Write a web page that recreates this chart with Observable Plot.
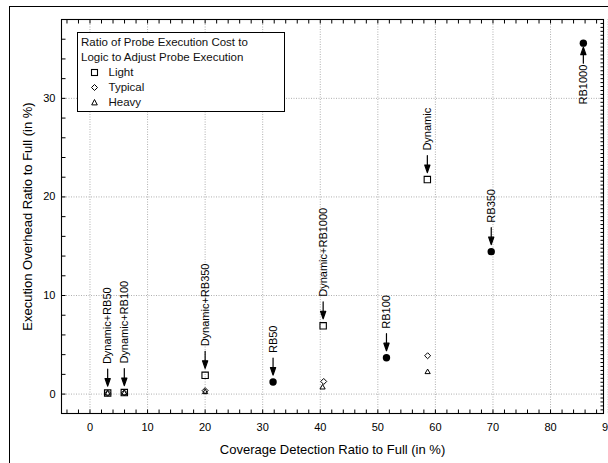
<!DOCTYPE html>
<html><head><meta charset="utf-8">
<script src="https://cdn.jsdelivr.net/npm/d3@7"></script>
<script src="https://cdn.jsdelivr.net/npm/@observablehq/plot@0.6"></script>
<style>
body{margin:0;background:#fff;width:608px;height:463px;overflow:hidden;position:relative;font-family:"Liberation Sans",Arial,Helvetica,sans-serif;}
#border{position:absolute;left:9px;top:6px;width:800px;height:800px;border:1.5px solid #000;box-sizing:border-box;}
#chart{position:absolute;left:0;top:0;}
#legend{position:absolute;left:77px;top:32px;width:208px;height:80px;box-sizing:border-box;border:1px solid #000;background:#fff;font-size:11.5px;line-height:15px;padding:2px 0 0 3px;color:#111;}
#legend .item{display:flex;align-items:center;height:15px;}
#legend .item svg{margin-left:8.5px;margin-right:10px;}
</style></head><body>
<div id="border"></div>
<div id="chart"></div>
<div id="legend"></div>
<script>
// ---- data ----
const legendTitle = ["Ratio of Probe Execution Cost to", "Logic to Adjust Probe Execution"];
const seriesNames = ["Light", "Typical", "Heavy"];
const lightX = [3.07, 5.96, 20.0, 40.5, 58.6];
const lightY = [0.1, 0.15, 1.9, 6.93, 21.76];
const typicalX = [3.07, 5.96, 20.0, 40.6, 58.65];
const typicalY = [0.1, 0.12, 0.35, 1.28, 3.89];
const heavyX = [3.07, 5.96, 20.0, 40.4, 58.65];
const heavyY = [0.05, 0.08, 0.2, 0.67, 2.23];
const dynamicLabels = ["Dynamic+RB50", "Dynamic+RB100", "Dynamic+RB350", "Dynamic+RB1000", "Dynamic"];
const rbX = [31.8, 51.5, 69.7, 85.7];
const rbY = [1.22, 3.69, 14.45, 35.6];
const rbLabels = ["RB50", "RB100", "RB350", "RB1000"];
const rbLabelBelow = [false, false, false, true];
const xTicks = [0, 10, 20, 30, 40, 50, 60, 70, 80, 90];
const yTicks = [0, 10, 20, 30];
const xLabel = "Coverage Detection Ratio to Full (in %)";
const yLabel = "Execution Overhead Ratio to Full (in %)";
const xDomain = [-4.95, 89.2];
const yDomain = [-1.97, 38];

// ---- tables ----
const light = lightX.map((x, i) => ({x, y: lightY[i]}));
const typical = typicalX.map((x, i) => ({x, y: typicalY[i]}));
const heavy = heavyX.map((x, i) => ({x, y: heavyY[i]}));
const rb = rbX.map((x, i) => ({x, y: rbY[i]}));
const annos = [
  ...light.map((d, i) => ({...d, label: dynamicLabels[i], below: false})),
  ...rb.map((d, i) => ({...d, label: rbLabels[i], below: rbLabelBelow[i]}))
];
const annAbove = annos.filter(d => !d.below);
const annBelow = annos.filter(d => d.below);

// minor tick positions (inward ticks on all four sides)
const xMinor = d3.range(-4, 89.2, 2);
const yMinorLeft = d3.range(-2, 38.01, 2).filter(v => v >= yDomain[0]);
const yMinorRight = d3.range(-1.6, 38, 0.4);

const FONT = "Liberation Sans, Arial, Helvetica, sans-serif";
const arrowShape = {
  draw(ctx, l) {
    ctx.moveTo(0, 0); ctx.lineTo(0, -l + 6);
    ctx.moveTo(0, -l); ctx.lineTo(2.6, -l + 7.5); ctx.lineTo(-2.6, -l + 7.5); ctx.closePath();
  }
};
const lineShape = {draw(ctx, l) { ctx.moveTo(0, 0); ctx.lineTo(0, -l); }};
const gridStyle = {stroke: "#9a9a9a", strokeOpacity: 1, strokeWidth: 0.8, strokeDasharray: "1,1.5"};
const tickStyle = {shape: lineShape, anchor: "start", stroke: "#000", strokeWidth: 1, strokeLinecap: "butt"};
const arrowStyle = {shape: arrowShape, anchor: "end", stroke: "#000", fill: "#000", strokeWidth: 1.2};

const chart = Plot.plot({
  width: 608, height: 463,
  marginLeft: 61, marginRight: 5, marginTop: 19, marginBottom: 50,
  style: {fontFamily: FONT, fontSize: "11px", color: "#000", background: "transparent"},
  x: {domain: xDomain, label: null},
  y: {domain: yDomain, label: null},
  marks: [
    Plot.gridX(xTicks, gridStyle),
    Plot.gridY(yTicks, gridStyle),
    Plot.vector(xMinor, {x: d => d, y: yDomain[0], length: 4, rotate: 0, ...tickStyle}),
    Plot.vector(xMinor, {x: d => d, y: yDomain[1], length: 4, rotate: 180, ...tickStyle}),
    Plot.vector(yMinorLeft, {x: xDomain[0], y: d => d, length: 4, rotate: 90, ...tickStyle}),
    Plot.vector(yMinorRight, {x: xDomain[1], y: d => d, length: 3, rotate: -90, ...tickStyle}),
    Plot.axisX(xTicks, {anchor: "bottom", tickSize: 0, tickPadding: 10, fontSize: 11, label: null}),
    Plot.axisY(yTicks, {anchor: "left", tickSize: 0, tickPadding: 6, fontSize: 11, label: null}),
    Plot.frame({stroke: "#000", strokeWidth: 1.1}),
    Plot.dot(heavy, {x: "x", y: "y", symbol: "triangle2", r: 2.5, stroke: "#000", strokeWidth: 1, fill: "none"}),
    Plot.dot(typical, {x: "x", y: "y", symbol: "diamond2", r: 2.7, stroke: "#000", strokeWidth: 1, fill: "none"}),
    Plot.dot(light, {x: "x", y: "y", symbol: "square", r: 3.6, stroke: "#000", strokeWidth: 1.1, fill: "none"}),
    Plot.dot(rb, {x: "x", y: "y", r: 3.7, fill: "#000", stroke: "none"}),
    Plot.vector(annAbove, {x: "x", y: "y", length: 17, rotate: 180, dy: -7, ...arrowStyle}),
    Plot.vector(annBelow, {x: "x", y: "y", length: 16, rotate: 0, dy: 4, ...arrowStyle}),
    Plot.text(annAbove, {x: "x", y: "y", text: "label", rotate: -90, textAnchor: "start", dy: -29, fontSize: 11}),
    Plot.text(annBelow, {x: "x", y: "y", text: "label", rotate: -90, textAnchor: "end", dy: 21.5, fontSize: 11}),
    Plot.text([xLabel], {text: d => d, frameAnchor: "bottom", textAnchor: "middle", lineAnchor: "middle", dy: 36, fontSize: 13}),
    Plot.text([yLabel], {text: d => d, frameAnchor: "left", textAnchor: "middle", lineAnchor: "middle", dx: -34, rotate: -90, fontSize: 13})
  ]
});
document.getElementById("chart").appendChild(chart);

// ---- legend ----
const legend = document.getElementById("legend");
const symbolSvg = {
  Light: '<svg width="9" height="9" viewBox="-4.5 -4.5 9 9"><rect x="-3" y="-3" width="6" height="6" fill="none" stroke="#000" stroke-width="1.1"/></svg>',
  Typical: '<svg width="9" height="9" viewBox="-4.5 -4.5 9 9"><path d="M0,-3L3,0L0,3L-3,0Z" fill="none" stroke="#000" stroke-width="1"/></svg>',
  Heavy: '<svg width="9" height="9" viewBox="-4.5 -4.5 9 9"><path d="M0,-3L2.8,2.4L-2.8,2.4Z" fill="none" stroke="#000" stroke-width="1"/></svg>'
};
legendTitle.forEach(t => { const d = document.createElement("div"); d.textContent = t; legend.appendChild(d); });
seriesNames.forEach(n => {
  const d = document.createElement("div"); d.className = "item";
  d.innerHTML = symbolSvg[n];
  const s = document.createElement("span"); s.textContent = n; d.appendChild(s);
  legend.appendChild(d);
});
</script>
</body></html>
